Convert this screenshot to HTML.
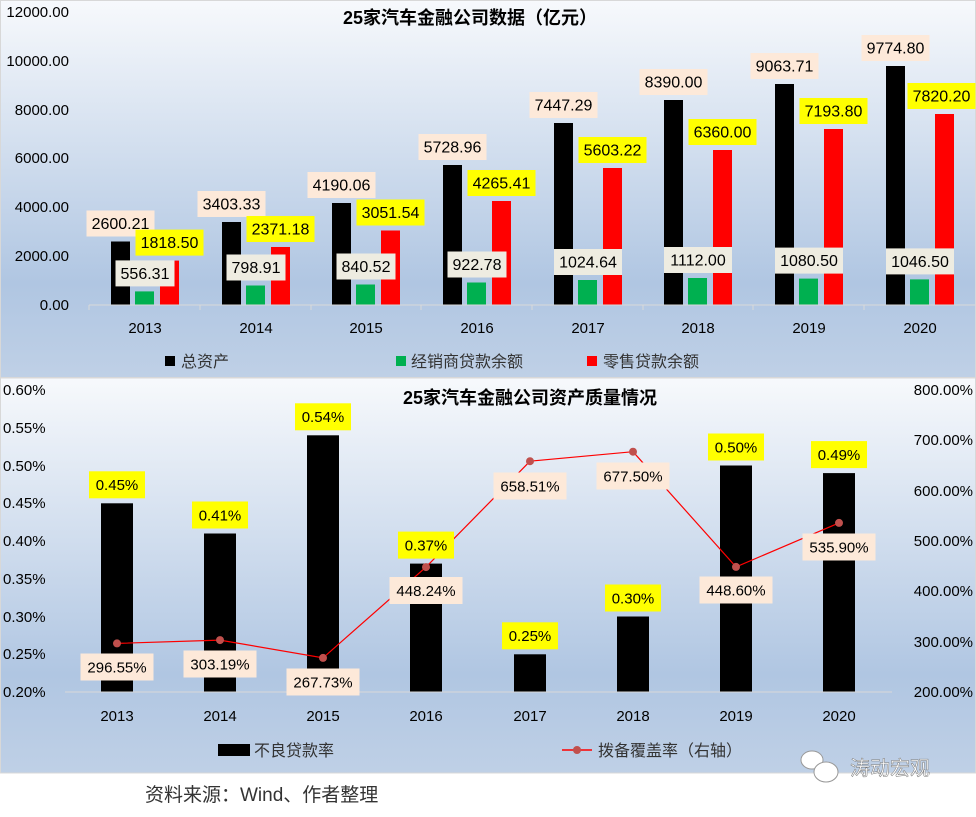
<!DOCTYPE html>
<html><head><meta charset="utf-8"><style>
body{margin:0;width:976px;height:812px;overflow:hidden;background:#fff}
text{font-family:"Liberation Sans","Noto Sans CJK SC",sans-serif}
</style></head><body>
<svg width="976" height="812" viewBox="0 0 976 812" xmlns="http://www.w3.org/2000/svg">
<defs>
<linearGradient id="g" x1="0" y1="0" x2="0" y2="1">
<stop offset="0" stop-color="#f7f9fc"/><stop offset="0.75" stop-color="#b0c6e2"/><stop offset="1" stop-color="#bfd0e6"/></linearGradient>
</defs>
<rect x="0.5" y="0.5" width="975" height="377" fill="url(#g)" stroke="#d8d8d8"/>
<rect x="0.5" y="378" width="975" height="395" fill="url(#g)" stroke="#d8d8d8"/>

<!-- TOP CHART -->
<text x="470" y="24" font-size="18" font-weight="bold" text-anchor="middle">25家汽车金融公司数据（亿元）</text>
<g font-size="15" text-anchor="end" fill="#000">
<text x="69" y="17">12000.00</text><text x="69" y="66">10000.00</text><text x="69" y="115">8000.00</text>
<text x="69" y="163">6000.00</text><text x="69" y="212">4000.00</text><text x="69" y="261">2000.00</text><text x="69" y="310">0.00</text>
</g>
<g fill="#000">
<rect x="111" y="241.5" width="19" height="63.5"/><rect x="222" y="222" width="19" height="83"/><rect x="332" y="203" width="19" height="102"/><rect x="443" y="165" width="19" height="140"/>
<rect x="554" y="123" width="19" height="182"/><rect x="664" y="100" width="19" height="205"/><rect x="775" y="84" width="19" height="221"/><rect x="886" y="66" width="19" height="239"/>
</g>
<g fill="#00b050">
<rect x="135" y="291.4" width="19" height="13.6"/><rect x="246" y="285.5" width="19" height="19.5"/><rect x="356" y="284.5" width="19" height="20.5"/><rect x="467" y="282.5" width="19" height="22.5"/>
<rect x="578" y="280" width="19" height="25"/><rect x="688" y="278" width="19" height="27"/><rect x="799" y="278.6" width="19" height="26.4"/><rect x="910" y="279.4" width="19" height="25.6"/>
</g>
<g fill="#ff0000">
<rect x="160" y="260.6" width="19" height="44.4"/><rect x="271" y="247" width="19" height="58"/><rect x="381" y="230.5" width="19" height="74.5"/><rect x="492" y="201" width="19" height="104"/>
<rect x="603" y="168" width="19" height="137"/><rect x="713" y="150" width="19" height="155"/><rect x="824" y="129" width="19" height="176"/><rect x="935" y="114" width="19" height="191"/>
</g>
<line x1="89" y1="305" x2="975" y2="305" stroke="#d9d9d9"/>
<g stroke="#d9d9d9"><line x1="89" y1="305" x2="89" y2="310"/><line x1="200" y1="305" x2="200" y2="310"/><line x1="311" y1="305" x2="311" y2="310"/><line x1="421" y1="305" x2="421" y2="310"/><line x1="532" y1="305" x2="532" y2="310"/><line x1="643" y1="305" x2="643" y2="310"/><line x1="753" y1="305" x2="753" y2="310"/><line x1="864" y1="305" x2="864" y2="310"/></g>
<g font-size="16" text-anchor="middle">
<rect x="86.5" y="210.5" width="68" height="26" fill="#fde9d9"/><text x="120.5" y="229">2600.21</text>
<rect x="197.5" y="191" width="68" height="26" fill="#fde9d9"/><text x="231.5" y="209.5">3403.33</text>
<rect x="307.5" y="172" width="68" height="26" fill="#fde9d9"/><text x="341.5" y="190.5">4190.06</text>
<rect x="418.5" y="134" width="68" height="26" fill="#fde9d9"/><text x="452.5" y="152.5">5728.96</text>
<rect x="529.5" y="92" width="68" height="26" fill="#fde9d9"/><text x="563.5" y="110.5">7447.29</text>
<rect x="639.5" y="69" width="68" height="26" fill="#fde9d9"/><text x="673.5" y="87.5">8390.00</text>
<rect x="750.5" y="53" width="68" height="26" fill="#fde9d9"/><text x="784.5" y="71.5">9063.71</text>
<rect x="861.5" y="35" width="68" height="26" fill="#fde9d9"/><text x="895.5" y="53.5">9774.80</text>

<rect x="135.5" y="229.6" width="68" height="26" fill="#ffff00"/><text x="169.5" y="248">1818.50</text>
<rect x="246.5" y="216" width="68" height="26" fill="#ffff00"/><text x="280.5" y="234.5">2371.18</text>
<rect x="356.5" y="199.5" width="68" height="26" fill="#ffff00"/><text x="390.5" y="218">3051.54</text>
<rect x="467.5" y="170" width="68" height="26" fill="#ffff00"/><text x="501.5" y="188.5">4265.41</text>
<rect x="578.5" y="137" width="68" height="26" fill="#ffff00"/><text x="612.5" y="155.5">5603.22</text>
<rect x="688.5" y="119" width="68" height="26" fill="#ffff00"/><text x="722.5" y="137.5">6360.00</text>
<rect x="799.5" y="98" width="68" height="26" fill="#ffff00"/><text x="833.5" y="116.5">7193.80</text>
<rect x="907.5" y="83" width="68" height="26" fill="#ffff00"/><text x="941.5" y="101.5">7820.20</text>

<rect x="115.5" y="260.4" width="59" height="26" fill="#eeece1"/><text x="145" y="279">556.31</text>
<rect x="226.5" y="254.5" width="59" height="26" fill="#eeece1"/><text x="256" y="273">798.91</text>
<rect x="336.5" y="253.5" width="59" height="26" fill="#eeece1"/><text x="366" y="272">840.52</text>
<rect x="447.5" y="251.5" width="59" height="26" fill="#eeece1"/><text x="477" y="270">922.78</text>
<rect x="554" y="249" width="68" height="26" fill="#eeece1"/><text x="588" y="267.5">1024.64</text>
<rect x="664" y="247" width="68" height="26" fill="#eeece1"/><text x="698" y="265.5">1112.00</text>
<rect x="775" y="247.6" width="68" height="26" fill="#eeece1"/><text x="809" y="266">1080.50</text>
<rect x="886" y="248.4" width="68" height="26" fill="#eeece1"/><text x="920" y="267">1046.50</text>
</g>
<g font-size="15" text-anchor="middle">
<text x="145" y="333">2013</text><text x="256" y="333">2014</text><text x="366" y="333">2015</text><text x="477" y="333">2016</text>
<text x="588" y="333">2017</text><text x="698" y="333">2018</text><text x="809" y="333">2019</text><text x="920" y="333">2020</text>
</g>
<rect x="165" y="356" width="10" height="10" fill="#000"/><text x="181" y="367" font-size="16" fill="#333">总资产</text>
<rect x="396" y="356" width="10" height="10" fill="#00b050"/><text x="411" y="367" font-size="16" fill="#333">经销商贷款余额</text>
<rect x="587" y="356" width="10" height="10" fill="#ff0000"/><text x="603" y="367" font-size="16" fill="#333">零售贷款余额</text>

<!-- BOTTOM CHART -->
<text x="530" y="404" font-size="18" font-weight="bold" text-anchor="middle">25家汽车金融公司资产质量情况</text>
<g font-size="15">
<text x="3" y="395">0.60%</text><text x="3" y="433">0.55%</text><text x="3" y="471">0.50%</text><text x="3" y="508">0.45%</text>
<text x="3" y="546">0.40%</text><text x="3" y="584">0.35%</text><text x="3" y="622">0.30%</text><text x="3" y="659">0.25%</text><text x="3" y="697">0.20%</text>
</g>
<g font-size="15" text-anchor="end">
<text x="973" y="395">800.00%</text><text x="973" y="445">700.00%</text><text x="973" y="496">600.00%</text><text x="973" y="546">500.00%</text>
<text x="973" y="596">400.00%</text><text x="973" y="647">300.00%</text><text x="973" y="697">200.00%</text>
</g>
<g fill="#000">
<rect x="101" y="503.3" width="32" height="188.7"/><rect x="204" y="533.5" width="32" height="158.5"/><rect x="307" y="435.3" width="32" height="256.7"/><rect x="410" y="563.6" width="32" height="128.4"/>
<rect x="514" y="654.3" width="32" height="37.7"/><rect x="617" y="616.5" width="32" height="75.5"/><rect x="720" y="465.5" width="32" height="226.5"/><rect x="823" y="473.1" width="32" height="218.9"/>
</g>
<line x1="65" y1="692" x2="892" y2="692" stroke="#d9d9d9"/>
<polyline points="117,643.4 220,640.1 323,657.9 426,567.1 530,461.2 633,451.7 736,566.9 839,522.9" fill="none" stroke="#ff0000" stroke-width="1.2"/>
<g font-size="15" text-anchor="middle">
<rect x="89" y="471.3" width="56" height="27" fill="#ffff00"/><text x="117" y="490">0.45%</text>
<rect x="192" y="501.5" width="56" height="27" fill="#ffff00"/><text x="220" y="520.5">0.41%</text>
<rect x="295" y="403.3" width="56" height="27" fill="#ffff00"/><text x="323" y="422">0.54%</text>
<rect x="398" y="531.6" width="56" height="27" fill="#ffff00"/><text x="426" y="550.5">0.37%</text>
<rect x="502" y="622.3" width="56" height="27" fill="#ffff00"/><text x="530" y="641">0.25%</text>
<rect x="605" y="584.5" width="56" height="27" fill="#ffff00"/><text x="633" y="603.5">0.30%</text>
<rect x="708" y="433.5" width="56" height="27" fill="#ffff00"/><text x="736" y="452.5">0.50%</text>
<rect x="811" y="441.1" width="56" height="27" fill="#ffff00"/><text x="839" y="460">0.49%</text>

<rect x="80.5" y="653.5" width="73" height="27" fill="#fde9d9"/><text x="117" y="672.5">296.55%</text>
<rect x="183.5" y="650.5" width="73" height="27" fill="#fde9d9"/><text x="220" y="669.5">303.19%</text>
<rect x="286.5" y="668.5" width="73" height="27" fill="#fde9d9"/><text x="323" y="687.5">267.73%</text>
<rect x="389.5" y="577" width="73" height="27" fill="#fde9d9"/><text x="426" y="596">448.24%</text>
<rect x="493.5" y="472.5" width="73" height="27" fill="#fde9d9"/><text x="530" y="491.5">658.51%</text>
<rect x="596.5" y="462.5" width="73" height="27" fill="#fde9d9"/><text x="633" y="481.5">677.50%</text>
<rect x="699.5" y="576.5" width="73" height="27" fill="#fde9d9"/><text x="736" y="595.5">448.60%</text>
<rect x="802.5" y="533.5" width="73" height="27" fill="#fde9d9"/><text x="839" y="552.5">535.90%</text>
</g>
<g fill="#c0504d">
<circle cx="117" cy="643.4" r="4"/><circle cx="220" cy="640.1" r="4"/><circle cx="323" cy="657.9" r="4"/><circle cx="426" cy="567.1" r="4"/>
<circle cx="530" cy="461.2" r="4"/><circle cx="633" cy="451.7" r="4"/><circle cx="736" cy="566.9" r="4"/><circle cx="839" cy="522.9" r="4"/>
</g>
<g font-size="15" text-anchor="middle">
<text x="117" y="721">2013</text><text x="220" y="721">2014</text><text x="323" y="721">2015</text><text x="426" y="721">2016</text>
<text x="530" y="721">2017</text><text x="633" y="721">2018</text><text x="736" y="721">2019</text><text x="839" y="721">2020</text>
</g>
<rect x="218" y="744" width="32" height="12" fill="#000"/><text x="254" y="756" font-size="16" fill="#333">不良贷款率</text>
<line x1="562" y1="750" x2="592" y2="750" stroke="#ff0000" stroke-width="1.5"/><circle cx="577" cy="750" r="4" fill="#c0504d"/>
<text x="598" y="756" font-size="16" fill="#333">拨备覆盖率（右轴）</text>

<!-- watermark -->
<ellipse cx="812" cy="760" rx="11" ry="9" fill="#fff" stroke="#999"/>
<ellipse cx="826" cy="772" rx="12" ry="10" fill="#fff" stroke="#999"/>
<text x="850" y="775" font-size="20" fill="#fff" stroke="#777" stroke-width="0.5">涛动宏观</text>
<text x="145" y="801" font-size="19" fill="#333">资料来源：Wind、作者整理</text>
</svg>
</body></html>
